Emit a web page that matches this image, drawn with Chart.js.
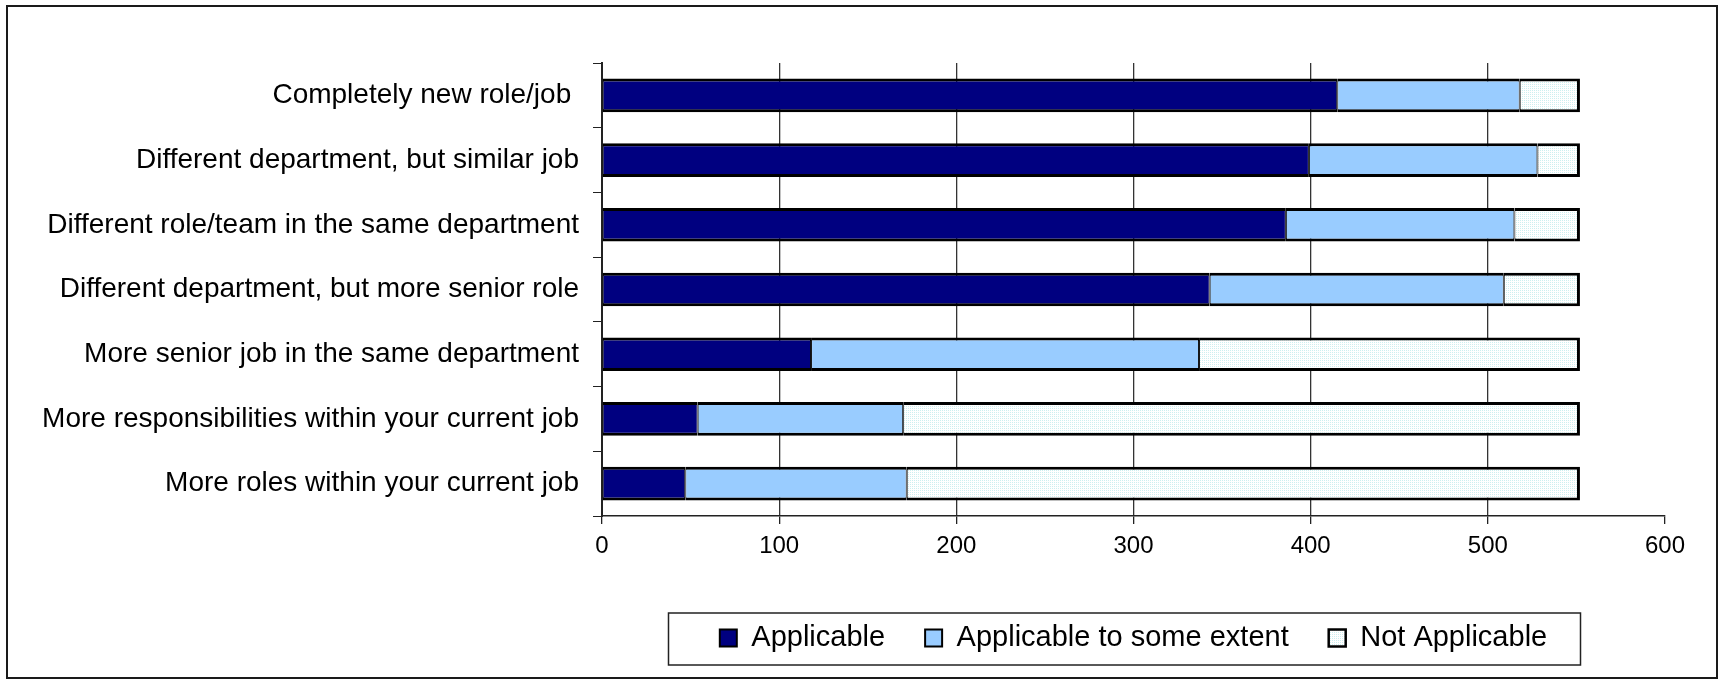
<!DOCTYPE html>
<html>
<head>
<meta charset="utf-8">
<script src="https://cdn.jsdelivr.net/npm/chart.js@4"></script>
<style>
  html, body { margin: 0; padding: 0; background: #fff; }
</style>
</head>
<body>
<canvas id="chart" width="1725" height="681"></canvas>
<script>
const categories = [
  'Completely new role/job ',
  'Different department, but similar job',
  'Different role/team in the same department',
  'Different department, but more senior role',
  'More senior job in the same department',
  'More responsibilities within your current job',
  'More roles within your current job'
];
const applicable    = [415, 399, 386, 343, 118, 54, 47];
const someExtent    = [103, 129, 129, 166, 219, 116, 125];
const notApplicable = [34, 24, 37, 43, 215, 382, 380];
const xTicks = [0, 100, 200, 300, 400, 500, 600];

const FONT = "'Liberation Sans', Arial, sans-serif";
const LEGEND_PAD = 40;
const LEGEND_SIZE = 29;
const LEGEND_GAP = 67.5;   // from the x axis line to the legend's top edge

// pale dotted fill for the "Not Applicable" segments
function dotPattern() {
  const c = document.createElement('canvas');
  c.width = 2; c.height = 2;
  const g = c.getContext('2d');
  g.fillStyle = '#ffffff';
  g.fillRect(0, 0, 2, 2);
  g.fillStyle = '#cdeff0';
  g.fillRect(0, 0, 1, 1);
  return g.createPattern(c, 'repeat');
}

// outer frame, legend placement, and the box around the legend
const framePlugin = {
  id: 'frame',
  afterLayout(chart) {
    const lg = chart.legend;
    const h = lg.bottom - lg.top;
    lg.top = chart.chartArea.bottom + LEGEND_GAP;
    lg.bottom = lg.top + h;
  },
  afterDraw(chart) {
    const ctx = chart.ctx;
    ctx.save();
    ctx.strokeStyle = '#1a1a1a';
    ctx.lineWidth = 2;
    ctx.strokeRect(7, 6, 1710, 672);

    const boxes = chart.legend.legendHitBoxes;
    const last = boxes[boxes.length - 1];
    const mid = (boxes[0].left + last.left + last.width) / 2;
    const yc = chart.legend.top + LEGEND_PAD + LEGEND_SIZE / 2;
    ctx.lineWidth = 1.5;
    ctx.strokeStyle = '#222';
    ctx.strokeRect(mid - 465, yc - 25, 912, 52);
    ctx.restore();
  }
};

const barBorder = { top: 3, bottom: 3, left: 1, right: 1 };

new Chart(document.getElementById('chart'), {
  type: 'bar',
  data: {
    labels: categories,
    datasets: [{
      label: 'Applicable',
      data: applicable,
      backgroundColor: '#000080',
      borderColor: '#000',
      borderWidth: barBorder,
      borderSkipped: false
    }, {
      label: 'Applicable to some extent',
      data: someExtent,
      backgroundColor: '#99ccff',
      borderColor: '#000',
      borderWidth: barBorder,
      borderSkipped: false
    }, {
      label: 'Not Applicable',
      data: notApplicable,
      backgroundColor: dotPattern(),
      borderColor: '#000',
      borderWidth: { top: 3, bottom: 3, left: 1, right: 3 },
      borderSkipped: false
    }]
  },
  options: {
    indexAxis: 'y',
    responsive: false,
    animation: false,
    barPercentage: 0.52,
    categoryPercentage: 1,
    layout: { padding: { top: 63, right: 60, bottom: 0, left: 0 } },
    plugins: {
      tooltip: { enabled: false },
      legend: {
        position: 'bottom',
        fullSize: false,
        labels: {
          color: '#000',
          font: { family: FONT, size: LEGEND_SIZE },
          boxWidth: 17,
          boxHeight: 17,
          padding: LEGEND_PAD
        }
      }
    },
    scales: {
      x: {
        stacked: true,
        min: 0,
        max: 600,
        afterBuildTicks: scale => { scale.ticks = xTicks.map(v => ({ value: v })); },
        afterFit: scale => { scale.height = 86; },
        grid: {
          color: ctx => (ctx.tick && (ctx.tick.value === 0 || ctx.tick.value === 600)) ? 'rgba(0,0,0,0)' : '#333',
          tickColor: '#222',
          lineWidth: 1.3,
          tickLength: 8
        },
        border: { color: '#222', width: 1.5 },
        ticks: {
          color: '#000',
          font: { family: FONT, size: 24 },
          padding: 8,
          maxRotation: 0
        }
      },
      y: {
        stacked: true,
        afterFit: scale => { scale.width = 602; },
        grid: {
          offset: true,
          drawOnChartArea: false,
          tickColor: '#222',
          tickLength: 9
        },
        border: { color: '#222', width: 2 },
        ticks: {
          color: '#000',
          font: { family: FONT, size: 28 },
          padding: 14
        }
      }
    }
  },
  plugins: [framePlugin]
});
</script>
</body>
</html>
